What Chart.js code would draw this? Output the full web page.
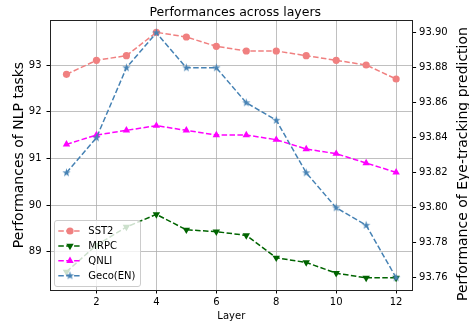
<!DOCTYPE html>
<html>
<head>
<meta charset="utf-8">
<script src="https://cdn.jsdelivr.net/npm/chart.js@4.4.0/dist/chart.umd.min.js"></script>
<style>
  html, body { margin: 0; padding: 0; background: #fff; }
  #wrap { width: 469px; height: 325px; }
</style>
</head>
<body>
<div id="wrap"><canvas id="myChart" width="469" height="325"></canvas></div>
<script>
// data
const layers = [1, 2, 3, 4, 5, 6, 7, 8, 9, 10, 11, 12];
const sst2 = [92.8, 93.1, 93.2, 93.7, 93.6, 93.4, 93.3, 93.3, 93.2, 93.1, 93.0, 92.7];
const mrpc = [88.57, 89.14, 89.53, 89.8, 89.47, 89.43, 89.35, 88.87, 88.77, 88.54, 88.44, 88.44];
const qnli = [91.3, 91.5, 91.6, 91.7, 91.6, 91.5, 91.5, 91.4, 91.2, 91.1, 90.9, 90.7];
const geco = [93.82, 93.84, 93.88, 93.90, 93.88, 93.88, 93.86, 93.85, 93.82, 93.80, 93.79, 93.76];

const xTicks = [2, 4, 6, 8, 10, 12];
const leftTicks = [89, 90, 91, 92, 93];
const rightTicks = [93.76, 93.78, 93.80, 93.82, 93.84, 93.86, 93.88, 93.90];

const FONT = "'DejaVu Sans', sans-serif";
Chart.defaults.font.family = FONT;
Chart.defaults.color = "#000";

function starImage(color, r) {
  const size = Math.ceil(r * 2) + 2;
  const c = document.createElement("canvas");
  c.width = size;
  c.height = size;
  const g = c.getContext("2d");
  g.beginPath();
  for (let i = 0; i < 10; i++) {
    const rr = i % 2 === 0 ? r : r * 0.382;
    const a = -Math.PI / 2 + (i * Math.PI) / 5;
    const px = size / 2 + rr * Math.cos(a);
    const py = size / 2 + rr * Math.sin(a);
    if (i === 0) g.moveTo(px, py); else g.lineTo(px, py);
  }
  g.closePath();
  g.fillStyle = color;
  g.fill();
  return c;
}

function series(label, values, color, style, axis, order, extra) {
  return Object.assign({
    label: label,
    data: layers.map((x, i) => ({ x: x, y: values[i] })),
    yAxisID: axis,
    order: order,
    borderColor: color,
    backgroundColor: color,
    borderWidth: 1.5,
    borderDash: [5.5, 2.4],
    fill: false,
    tension: 0,
    pointStyle: style,
    pointRadius: 3.6,
    pointBackgroundColor: color,
    pointBorderColor: color,
    pointBorderWidth: 0,
  }, extra || {});
}

const datasets = [
  series("SST2", sst2, "#F08080", "circle", "y", 3),
  series("MRPC", mrpc, "#006400", "triangle", "y", 2, { pointRotation: 180, pointRadius: 4.3 }),
  series("QNLI", qnli, "#FF00FF", "triangle", "y", 1, { pointRadius: 4.3 }),
  series("Geco(EN)", geco, "#4682B4", starImage("#4682B4", 4.4), "y1", 0),
];

const framePlugin = {
  id: "frame",
  afterDatasetsDraw(chart) {
    const ctx = chart.ctx;
    const a = chart.chartArea;
    // legend, upper-left corner of the box at (54, 220)
    const lx = a.left + 4, ly = a.top + 200, lw = 86, lh = 66;
    ctx.save();
    ctx.beginPath();
    ctx.roundRect(lx + 0.5, ly + 0.5, lw, lh, 2.5);
    ctx.fillStyle = "rgba(255,255,255,0.8)";
    ctx.fill();
    ctx.strokeStyle = "#cccccc";
    ctx.lineWidth = 1;
    ctx.stroke();
    ctx.font = "10px " + FONT;
    ctx.textBaseline = "middle";
    ctx.textAlign = "left";
    const order = [0, 1, 2, 3];
    order.forEach((di, k) => {
      const ds = chart.data.datasets[di];
      const y = ly + 11 + k * 14.9;
      ctx.save();
      ctx.strokeStyle = ds.borderColor;
      ctx.lineWidth = 1.5;
      ctx.setLineDash([5.5, 2.4]);
      ctx.beginPath();
      ctx.moveTo(lx + 4.3, y);
      ctx.lineTo(lx + 27.7, y);
      ctx.stroke();
      ctx.restore();
      ctx.fillStyle = ds.pointBackgroundColor;
      ctx.strokeStyle = ds.pointBorderColor;
      ctx.lineWidth = 0;
      Chart.helpers.drawPoint(ctx, {
        pointStyle: ds.pointStyle,
        rotation: ds.pointRotation || 0,
        radius: ds.pointRadius,
        borderWidth: 0,
      }, lx + 16, y);
      ctx.fillStyle = "#000";
      ctx.fillText(ds.label, lx + 34.3, y + 0.5);
    });
    ctx.restore();
  },
  afterDraw(chart) {
    const ctx = chart.ctx;
    const a = chart.chartArea;
    ctx.save();
    // top spine
    ctx.strokeStyle = "#222";
    ctx.lineWidth = 1;
    ctx.beginPath();
    ctx.moveTo(a.left, Math.round(a.top) + 0.5);
    ctx.lineTo(a.right, Math.round(a.top) + 0.5);
    ctx.stroke();
    ctx.fillStyle = "#000";
    ctx.textAlign = "center";
    // title
    ctx.font = "12.5px " + FONT;
    ctx.textBaseline = "alphabetic";
    ctx.fillText("Performances across layers", (a.left + a.right) / 2 + 4, 16);
    // right axis title, reading bottom to top
    ctx.font = "14px " + FONT;
    ctx.textBaseline = "middle";
    ctx.translate(463, 164);
    ctx.rotate(-Math.PI / 2);
    ctx.fillText("Performance of Eye-tracking prediction", 0, 0);
    ctx.restore();
  },
};

const gridOpts = { color: "#b0b0b0", lineWidth: 0.8, tickLength: 3.5, tickColor: "#000", tickWidth: 1 };
const borderOpts = { color: "#222", width: 1 };

new Chart(document.getElementById("myChart").getContext("2d"), {
  type: "line",
  data: { datasets: datasets },
  options: {
    responsive: false,
    animation: false,
    devicePixelRatio: 1,
    events: [],
    layout: { padding: { top: 20, left: 0, right: 0, bottom: 0 } },
    plugins: { legend: { display: false }, tooltip: { enabled: false }, title: { display: false } },
    scales: {
      x: {
        type: "linear",
        min: 0.45,
        max: 12.55,
        afterBuildTicks: (s) => { s.ticks = xTicks.map((v) => ({ value: v })); },
        afterFit: (s) => { s.height = 35; },
        ticks: { font: { size: 10 }, padding: 3, maxRotation: 0, autoSkip: false, color: "#000" },
        grid: gridOpts,
        border: borderOpts,
        title: { display: true, text: "Layer", font: { size: 10 }, padding: { top: 0, bottom: 3 }, color: "#000" },
      },
      y: {
        type: "linear",
        position: "left",
        min: 88.18,
        max: 93.964,
        afterBuildTicks: (s) => { s.ticks = leftTicks.map((v) => ({ value: v })); },
        afterFit: (s) => { s.width = 50; },
        ticks: { font: { size: 10 }, padding: 5, color: "#000", callback: (v) => String(v) },
        grid: gridOpts,
        border: borderOpts,
        title: { display: true, text: "Performances of NLP tasks", font: { size: 14 }, padding: { top: 11, bottom: 0 }, color: "#000" },
      },
      y1: {
        type: "linear",
        position: "right",
        min: 93.753,
        max: 93.9073,
        afterBuildTicks: (s) => { s.ticks = rightTicks.map((v) => ({ value: v })); },
        afterFit: (s) => { s.width = 56.4; },
        ticks: { font: { size: 10 }, padding: 3, color: "#000", callback: (v) => v.toFixed(2) },
        grid: { drawOnChartArea: false, tickLength: 3.5, tickColor: "#000", tickWidth: 1 },
        border: borderOpts,
      },
    },
  },
  plugins: [framePlugin],
});
</script>
</body>
</html>
